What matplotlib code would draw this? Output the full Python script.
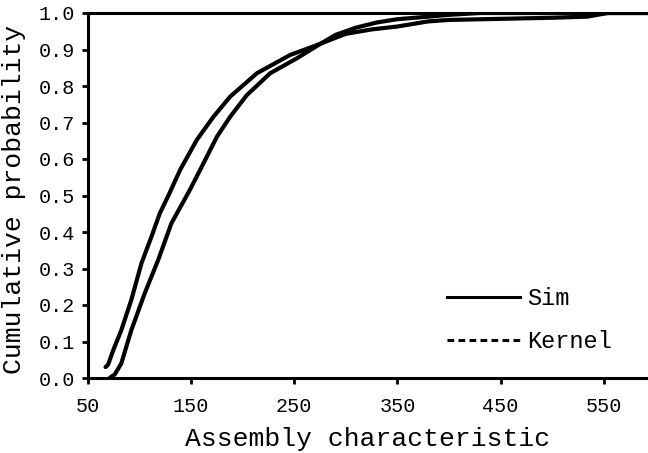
import matplotlib
matplotlib.use("Agg")
from matplotlib import pyplot as plt
from matplotlib.lines import Line2D

# cumulative curves
sim_x = [67, 69.4, 75, 82.3, 92, 101.8, 111.5, 119.6, 128, 139.3, 155.4, 171.7,
         187.9, 213.8, 246, 270, 300, 325, 350, 365, 380, 400, 450, 500, 534, 554, 600]
sim_p = [0.03, 0.036, 0.08, 0.131, 0.214, 0.314, 0.387, 0.451, 0.50, 0.57, 0.652, 0.716,
         0.771, 0.835, 0.885, 0.91, 0.943, 0.955, 0.963, 0.97, 0.977, 0.981, 0.984,
         0.987, 0.99, 1.0, 1.0]

kernel_x = [71, 76, 82.3, 92, 105, 118, 130.9, 148.7, 158.7, 175, 187.9, 204,
            226.7, 252.6, 275, 290, 310, 330, 350, 380, 400, 430, 600]
kernel_p = [0.0, 0.01, 0.04, 0.131, 0.232, 0.323, 0.424, 0.515, 0.57, 0.661, 0.716, 0.775,
            0.835, 0.876, 0.915, 0.94, 0.96, 0.974, 0.983, 0.99, 0.995, 1.0, 1.0]

x_ticks = [50, 150, 250, 350, 450, 550]
y_ticks = [i / 10 for i in range(11)]

plt.rcParams['font.family'] = ['Liberation Mono', 'DejaVu Sans']

fig = plt.figure(figsize=(6.48, 4.53), dpi=100)
ax = fig.add_axes([88 / 648, 1 - 378 / 453, 1 - 88 / 648, (378 - 13) / 453])

ax.plot(sim_x, sim_p, color='black', lw=3, solid_capstyle='round')
ax.plot(kernel_x, kernel_p, color='black', lw=3, solid_capstyle='round')

ax.set_xlim(50, 593)
ax.set_ylim(0, 1.0)
ax.set_xticks(x_ticks)
ax.set_yticks(y_ticks)
ax.set_yticklabels(['%.1f' % v for v in y_ticks])
ax.tick_params(labelsize=14.5, width=2, length=4.5, direction='out', colors='black')
ax.tick_params(axis='x', pad=9)
ax.tick_params(axis='y', pad=5)

for side in ['left', 'bottom', 'top']:
    ax.spines[side].set_linewidth(2.2)
ax.spines['right'].set_visible(False)

ax.set_xlabel('Assembly characteristic', fontsize=19, labelpad=8)
ax.set_ylabel('Cumulative probability', fontsize=19)
ax.yaxis.set_label_coords(-0.111, 0.49)

handles = [Line2D([], [], color='black', lw=2.2),
           Line2D([], [], color='black', lw=2.2, linestyle=(0, (2.2, 1.4)))]
ax.legend(handles, ['Sim', 'Kernel'], loc='center left', bbox_to_anchor=(0.641, 0.159),
          frameon=False, fontsize=17, handlelength=3.1, handletextpad=0.3,
          labelspacing=0.86, borderpad=0, borderaxespad=0)

fig.savefig('out.png', dpi=100)
